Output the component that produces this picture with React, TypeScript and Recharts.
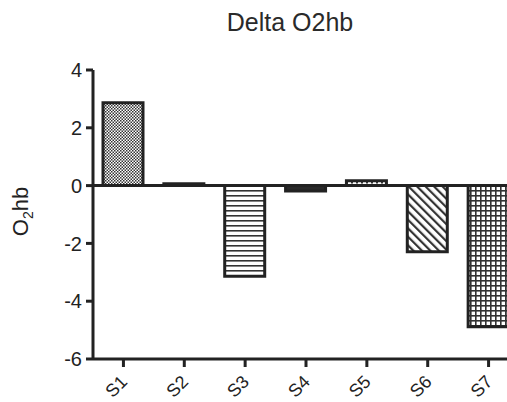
import React from 'react';
import { BarChart, Bar, XAxis, YAxis, Cell, ReferenceLine, Label } from 'recharts';

const categories = ['S1', 'S2', 'S3', 'S4', 'S5', 'S6', 'S7'];
const deltaValues = [2.87, 0.06, -3.14, -0.19, 0.17, -2.29, -4.88];
const yTicks = [-6, -4, -2, 0, 2, 4];
const fills = ['url(#checker)', '#2a2a2a', 'url(#hlines)', '#2a2a2a', 'url(#dotrow)', 'url(#diag)', 'url(#grid)'];

const data = categories.map((name, i) => ({ name, delta: deltaValues[i] }));

const ink = '#222';
const font = '"Liberation Sans", Arial, sans-serif';

const XTick = (props: any) => {
  const { x, y, payload } = props;
  return (
    <g transform={`translate(${x},${y})`}>
      <text
        x={5}
        y={16}
        textAnchor="end"
        transform="rotate(-45, 5, 16)"
        fontSize={18}
        fontFamily={font}
        fill={ink}
      >
        {payload.value}
      </text>
    </g>
  );
};

const YLabel = (props: any) => {
  const vb = props.viewBox || { y: 70, height: 289 };
  const cy = vb.y + vb.height / 2 - 3;
  const cx = 28;
  return (
    <text
      x={cx}
      y={cy}
      transform={`rotate(-90, ${cx}, ${cy})`}
      textAnchor="middle"
      fontSize={22}
      fontFamily={font}
      fill={ink}
    >
      O<tspan fontSize={14} dy={5}>2</tspan><tspan dy={-5}>hb</tspan>
    </text>
  );
};

export default function App() {
  return (
    <div style={{ position: 'absolute', left: 0, top: 0, width: 507, height: 402, overflow: 'hidden', background: '#fff' }}>
      <div
        style={{
          position: 'absolute',
          left: 290,
          top: 10,
          transform: 'translateX(-50%)',
          fontFamily: font,
          fontSize: 25,
          lineHeight: '25px',
          color: '#2a2a2a',
          whiteSpace: 'nowrap',
        }}
      >
        Delta O2hb
      </div>
      <BarChart
        width={525}
        height={402}
        data={data}
        margin={{ top: 70, right: 6, bottom: 0, left: 0 }}
        barSize={40}
      >
        <defs>
          <pattern id="checker" width="3" height="3" patternUnits="userSpaceOnUse">
            <rect width="3" height="3" fill="#fff" />
            <rect x="0" y="0" width="1.5" height="1.5" fill="#333" />
            <rect x="1.5" y="1.5" width="1.5" height="1.5" fill="#333" />
          </pattern>
          <pattern id="hlines" width="6" height="5" patternUnits="userSpaceOnUse">
            <rect width="6" height="5" fill="#fff" />
            <rect x="0" y="0" width="6" height="1.6" fill="#333" />
          </pattern>
          <pattern id="dotrow" width="5" height="5" patternUnits="userSpaceOnUse">
            <rect width="5" height="5" fill="#fff" />
            <rect x="1" y="2" width="2" height="1.5" fill="#333" />
          </pattern>
          <pattern id="diag" width="6" height="6" patternUnits="userSpaceOnUse" patternTransform="rotate(-45)">
            <rect width="6" height="6" fill="#fff" />
            <rect x="0" y="0" width="2.2" height="6" fill="#333" />
          </pattern>
          <pattern id="grid" width="5" height="5" patternUnits="userSpaceOnUse">
            <rect width="5" height="5" fill="#fff" />
            <rect x="0" y="0" width="5" height="1.6" fill="#333" />
            <rect x="0" y="0" width="1.6" height="5" fill="#333" />
          </pattern>
        </defs>
        <XAxis
          dataKey="name"
          height={43}
          interval={0}
          tickSize={8}
          tickMargin={0}
          tick={<XTick />}
          axisLine={{ stroke: ink, strokeWidth: 3 }}
          tickLine={{ stroke: ink, strokeWidth: 3 }}
        />
        <YAxis
          width={93}
          domain={[-6, 4]}
          ticks={yTicks}
          interval={0}
          tickSize={7}
          tickMargin={4}
          axisLine={{ stroke: ink, strokeWidth: 3 }}
          tickLine={{ stroke: ink, strokeWidth: 3 }}
          tick={{ fill: ink, fontSize: 20, fontFamily: font }}
        >
          <Label content={<YLabel />} />
        </YAxis>
        <ReferenceLine y={0} stroke={ink} strokeWidth={3} />
        <Bar dataKey="delta" stroke={ink} strokeWidth={3} isAnimationActive={false}>
          {data.map((d, i) => (
            <Cell key={d.name} fill={fills[i]} />
          ))}
        </Bar>
      </BarChart>
    </div>
  );
}
